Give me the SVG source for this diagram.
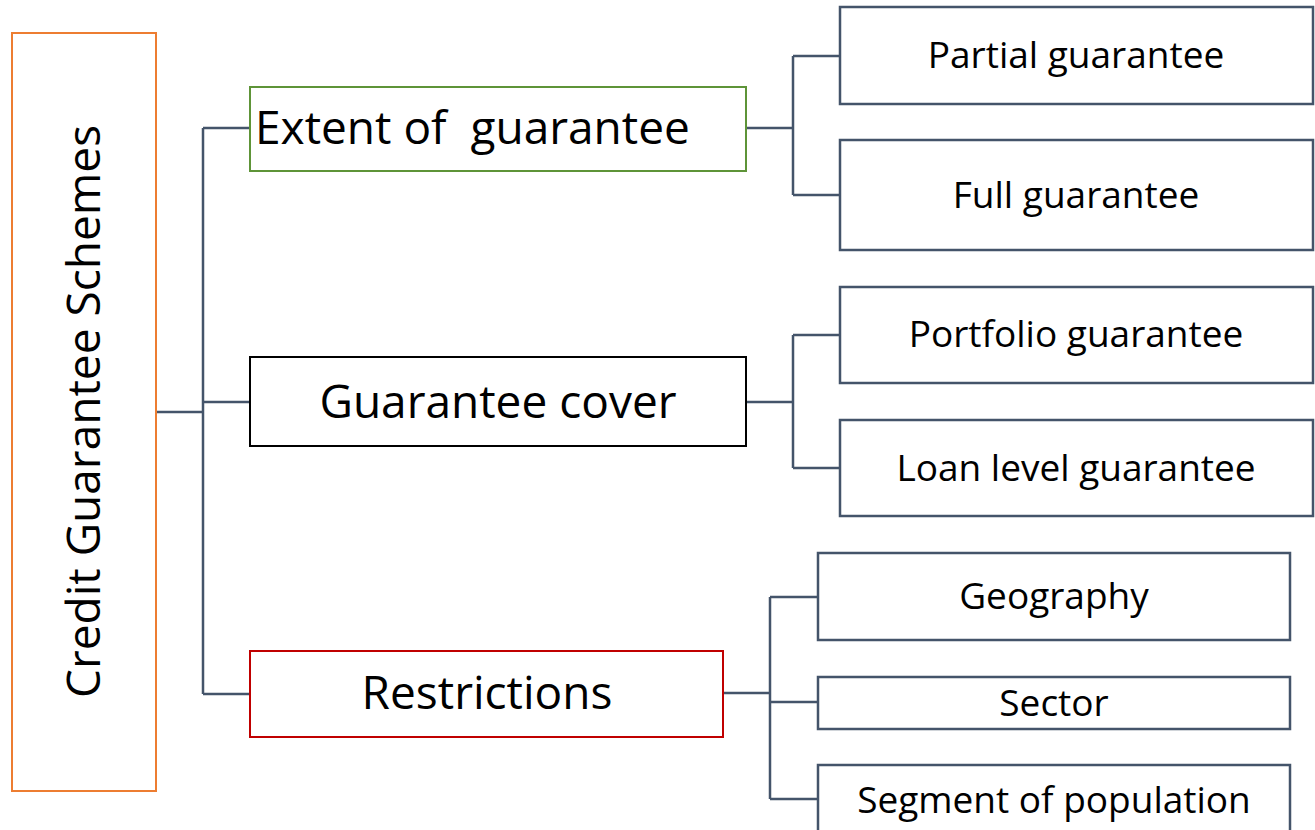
<svg xmlns="http://www.w3.org/2000/svg" width="1315" height="830" viewBox="0 0 1315 830">
  <style>
    text { font-family: "Open Sans", "Noto Sans", "Liberation Sans", sans-serif; fill: #000; white-space: pre; }
    .big { font-size: 46px; }
    .small { font-size: 37px; text-anchor: middle; }
    .leaf { fill: #fff; stroke: #44546A; stroke-width: 2.5; }
    .conn { fill: none; stroke: #44546A; stroke-width: 2.5; }
  </style>
  <rect width="1315" height="830" fill="#fff"/>

  <!-- connectors -->
  <g id="connectors" class="conn">
    <path d="M157 412 H203 M203 128 V694 M203 128 H250 M203 402 H250 M203 694 H250"/>
    <path d="M746 128 H793 M793 56 V195 M793 56 H840 M793 195 H840"/>
    <path d="M746 402 H793 M793 335 V468 M793 335 H840 M793 468 H840"/>
    <path d="M723 693 H770 M770 597 V799 M770 597 H818 M770 702 H818 M770 799 H818"/>
  </g>

  <!-- root -->
  <g id="root">
    <rect x="12" y="33" width="144" height="758" fill="#fff" stroke="#ED7D31" stroke-width="2"/>
    <text class="big" text-anchor="middle" transform="translate(100 411.5) rotate(-90)">Credit Guarantee Schemes</text>
  </g>

  <!-- categories -->
  <g id="extent">
    <rect x="250" y="87" width="496" height="84" fill="#fff" stroke="#5E9438" stroke-width="2"/>
    <text class="big" x="255" y="144">Extent of  guarantee</text>
  </g>
  <g id="cover">
    <rect x="250" y="357" width="496" height="89" fill="#fff" stroke="#000" stroke-width="2"/>
    <text class="big" x="498" y="418" text-anchor="middle">Guarantee cover</text>
  </g>
  <g id="restrictions">
    <rect x="250" y="651" width="473" height="86" fill="#fff" stroke="#C00000" stroke-width="2"/>
    <text class="big" x="487" y="709" text-anchor="middle">Restrictions</text>
  </g>

  <!-- leaves -->
  <g id="partial">
    <rect class="leaf" x="840" y="7" width="473" height="97"/>
    <text class="small" x="1076" y="68">Partial guarantee</text>
  </g>
  <g id="full">
    <rect class="leaf" x="840" y="140" width="473" height="110"/>
    <text class="small" x="1076" y="208">Full guarantee</text>
  </g>
  <g id="portfolio">
    <rect class="leaf" x="840" y="287" width="473" height="96"/>
    <text class="small" x="1076" y="347">Portfolio guarantee</text>
  </g>
  <g id="loan">
    <rect class="leaf" x="840" y="420" width="473" height="96"/>
    <text class="small" x="1076" y="481">Loan level guarantee</text>
  </g>
  <g id="geography">
    <rect class="leaf" x="818" y="553" width="472" height="87"/>
    <text class="small" x="1054" y="609">Geography</text>
  </g>
  <g id="sector">
    <rect class="leaf" x="818" y="677" width="472" height="52"/>
    <text class="small" x="1054" y="716">Sector</text>
  </g>
  <g id="segment">
    <rect class="leaf" x="818" y="765" width="472" height="80"/>
    <text class="small" x="1054" y="813">Segment of population</text>
  </g>
</svg>
